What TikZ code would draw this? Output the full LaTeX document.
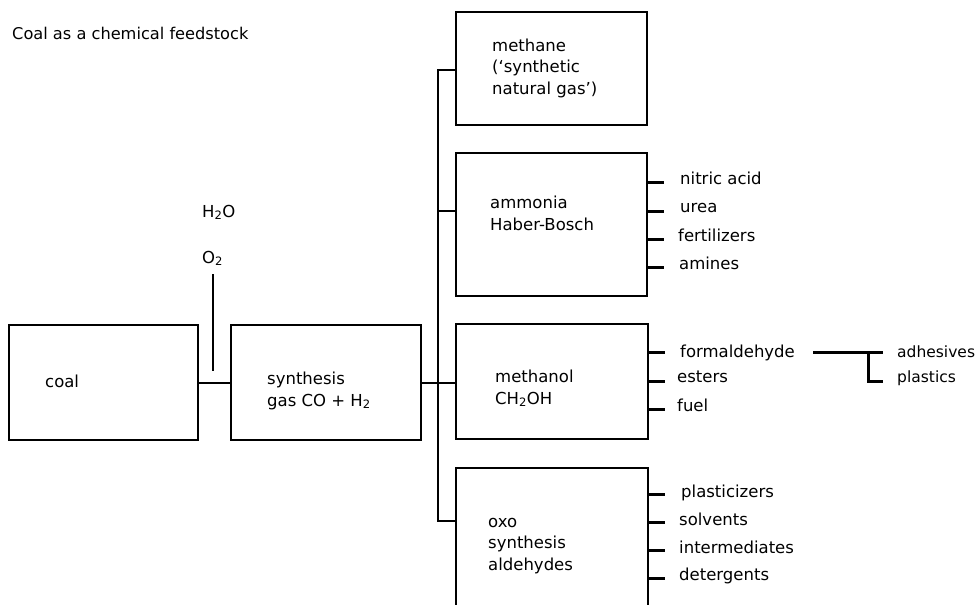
\documentclass[tikz,border=0pt]{standalone}
\usepackage{fontspec}
\setmainfont{DejaVu Sans}
\begin{document}
\begin{tikzpicture}[x=1pt,y=-1pt,
  box/.style={draw,line width=2.5pt,inner sep=0pt},
  conn/.style={line width=2.2pt},
  tick/.style={line width=3pt},
  lbl/.style={anchor=base west,inner sep=0pt,font=\fontsize{16.5}{21}\selectfont},
  mlbl/.style={anchor=base west,inner sep=0pt,align=left,font=\fontsize{16.5}{21.5}\selectfont}
]
\clip (0,0) rectangle (980,605);
\fill[white] (0,0) rectangle (980,605);

\node[lbl,font=\fontsize{16.2}{19}\selectfont] (title) at (12,39) {Coal as a chemical feedstock};

% boxes
\node[box,minimum width=189pt,minimum height=115pt] (coal) at (103.5,382.5) {};
\node[box,minimum width=190pt,minimum height=115pt] (synth) at (326,382.5) {};
\node[box,minimum width=191pt,minimum height=113pt] (methane) at (551.5,68.5) {};
\node[box,minimum width=191pt,minimum height=143pt] (ammonia) at (551.5,224.5) {};
\node[box,minimum width=192pt,minimum height=115pt] (methanol) at (552,381.5) {};
\node[box,minimum width=192pt,minimum height=172pt] (oxo) at (552,554) {};

% box texts (base = baseline of last line)
\node[lbl] (coalt) at (45,387) {coal};
\node[mlbl] (syntht) at (267,406) {synthesis\\gas CO + H\textsubscript{2}};
\node[mlbl] (methanet) at (492,94) {methane\\(‘synthetic\\natural gas’)};
\node[mlbl] (ammoniat) at (490,230) {ammonia\\Haber-Bosch};
\node[mlbl] (methanolt) at (495,404) {methanol\\CH\textsubscript{2}OH};
\node[mlbl] (oxot) at (488,570) {oxo\\synthesis\\aldehydes};

% inputs
\node[lbl] (h2o) at (202,217) {H\textsubscript{2}O};
\node[lbl] (o2) at (202,263) {O\textsubscript{2}};
\coordinate (o2a) at (213,274);
\coordinate (o2b) at (213,371);
\draw[conn] (o2a) -- (o2b);

% main connectors
\coordinate (mid) at (0,383);
\draw[conn] (coal.east |- mid) -- (synth.west |- mid);
\draw[conn] (synth.east |- mid) -- (methanol.west |- mid);
\coordinate (bt) at (438,70);
\coordinate (bb) at (438,521);
\draw[conn] (methane.west |- bt) -- (bt) -- (bb) -- (bb -| oxo.west);
\draw[conn] (ammonia.west |- 0,211) -- (bt |- 0,211);

% ammonia products
\foreach \y/\n in {182/a1,211/a2,239/a3,267/a4}{
  \draw[tick] (ammonia.east |- 0,\y) -- ++(16,0) coordinate (\n c);
}
\node[lbl] (a1) at (680,184) {nitric acid};
\node[lbl] (a2) at (680,212) {urea};
\node[lbl] (a3) at (678,241) {fertilizers};
\node[lbl] (a4) at (679,269) {amines};

% methanol products
\foreach \y/\n in {352/m1,381/m2,409/m3}{
  \draw[tick] (methanol.east |- 0,\y) -- ++(16,0) coordinate (\n c);
}
\node[lbl] (m1) at (680,357) {formaldehyde};
\node[lbl] (m2) at (677,382) {esters};
\node[lbl] (m3) at (677,411) {fuel};

% formaldehyde products
\node[lbl,font=\fontsize{15.5}{20}\selectfont] (f1) at (897,357) {adhesives};
\node[lbl,font=\fontsize{15.5}{20}\selectfont] (f2) at (897,382) {plastics};
\coordinate (fa) at (813,352);
\coordinate (fj) at (868,352);
\coordinate (fb) at (883,352);
\coordinate (fc) at (883,381);
\draw[tick] (fa) -- (fb);
\draw[tick] (fj) |- (fc);

% oxo products
\foreach \y/\n in {494/o1,522/o2,550/o3,578/o4}{
  \draw[tick] (oxo.east |- 0,\y) -- ++(16,0) coordinate (\n c);
}
\node[lbl] (p1) at (681,497) {plasticizers};
\node[lbl] (p2) at (679,525) {solvents};
\node[lbl] (p3) at (679,553) {intermediates};
\node[lbl] (p4) at (679,580) {detergents};
\end{tikzpicture}
\end{document}
